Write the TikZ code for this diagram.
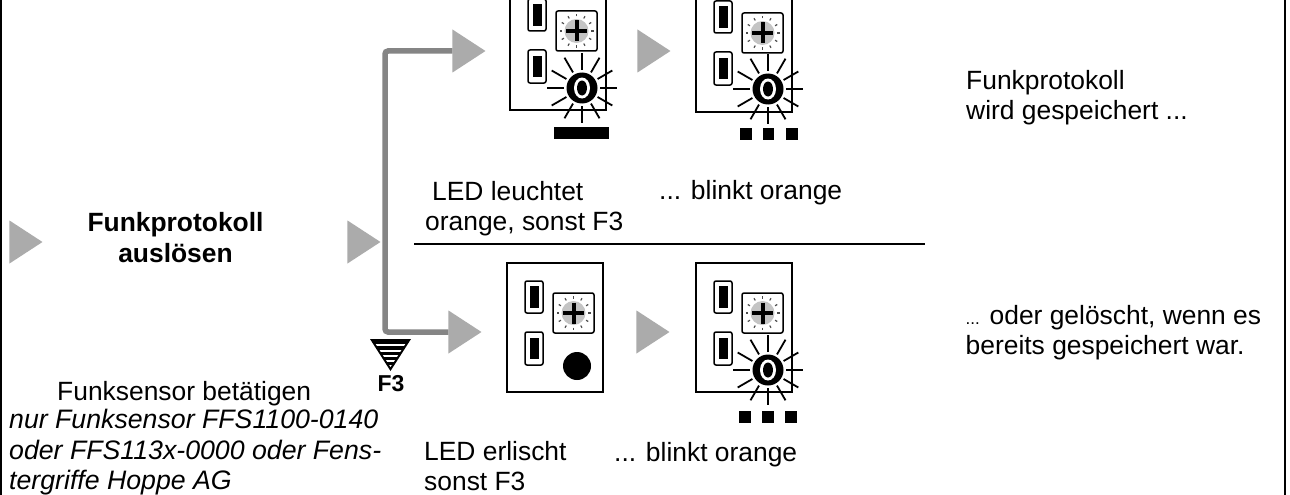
\documentclass[tikz,border=0pt]{standalone}
\usepackage{fontspec}
\setmainfont{Liberation Sans}
\usetikzlibrary{calc, positioning, arrows.meta, shapes.geometric}
\definecolor{feedGray}{HTML}{858585}
\definecolor{tipGray}{HTML}{ABABAB}
\definecolor{dialGray}{HTML}{C4C4C4}
\tikzset{
    caption/.style={font=\fontsize{26.4}{30.5}\selectfont, align=left, inner sep=0pt, anchor=north west},
    note/.style={caption, font=\fontsize{26.7}{30.5}\selectfont\itshape},
    title/.style={caption, anchor=north, align=center, font=\fontsize{26.4}{31}\selectfont\bfseries},
    tip/.style={isosceles triangle, isosceles triangle stretches, fill=tipGray, inner sep=0pt, minimum height=33pt, minimum width=43pt, anchor=apex},
    feed/.style={line width=5.5pt, draw=feedGray, rounded corners=3pt},
    divider/.style={line width=2pt, draw=black},
    slot/.style={draw=black, line width=1.5pt, fill=white, rounded corners=2pt},
    pics/device/.style={code={
        \draw[line width=1.8pt, fill=white] (0,0) rectangle (96,129);
        % Slots
        \draw[slot] (18,18) rectangle (36,50);
        \fill (22.5,23) rectangle (32,45);
        \draw[slot] (18,69) rectangle (36,102);
        \fill (22.5,75) rectangle (32,96);
        % Dial
        \draw[line width=1.5pt, rounded corners=2pt] (46,30) rectangle (87,70);
        \fill[dialGray] (66.5,50) circle (12);
        \foreach \a in {0,30,...,330}
            \draw[line width=1.2pt, black!70] ($(66.5,50)+(\a:14.5)$) -- ($(66.5,50)+(\a:17)$);
        \draw[line width=4pt] (56,50) -- (77,50) (66.5,39.5) -- (66.5,60.5);
    }},
    pics/glow/.style={code={
        \foreach \a in {0,30,...,330}
            \draw[line width=1.8pt] (\a:18) -- (\a:35);
        \fill (0,0) circle (15.5);
        \fill[white] (0,0) ellipse (8 and 10.5);
        \fill (0,0) ellipse (5 and 7.5);
    }}
}
\begin{document}
\begin{tikzpicture}[x=1pt, y=-1pt]
    \useasboundingbox (0,0) rectangle (1290,495);
    \clip (0,0) rectangle (1290,495);
    \fill[white] (0,0) rectangle (1290,495);

    % Frame
    \coordinate (frameTL) at (1,0);
    \coordinate (frameBL) at (1,495);
    \coordinate (frameTR) at (1285,0);
    \coordinate (frameBR) at (1285,495);
    \draw[divider] (frameTL) -- (frameBL);
    \draw[divider] (frameTR) -- (frameBR);

    % Arrows
    \node[tip] (tipIn) at (43,242) {};
    \node[tip] (tipMid) at (381,242) {};
    \node[tip] (tipTop) at (486,51) {};
    \node[tip] (tipTopNext) at (671,51) {};
    \node[tip] (tipBot) at (482,332) {};
    \node[tip] (tipBotNext) at (670,332) {};
    \draw[feed] (tipTop.lower side) -| ($(tipMid.apex)+(4,0)$) |- (tipBot.lower side);

    % Devices, upper row
    \pic at (510,-19) {device};
    \pic at (582,88) {glow};
    \fill (554,127) rectangle (609,139);
    \pic at (696,-17) {device};
    \pic at (768,89) {glow};
    \foreach \x in {740,762.5,786}
        \fill (\x,128) rectangle ++(11.5,11.5);

    % Devices, lower row
    \pic at (507,263) {device};
    \fill (577,366) circle (14);
    \pic at (696,263) {device};
    \pic at (768,370) {glow};
    \foreach \x in {739,762,785}
        \fill (\x,411) rectangle ++(12,12);

    % F3 mark
    \fill (370,339) -- (411,339) -- (390.5,371) -- cycle;
    \begin{scope}
        \clip (373.5,340.5) -- (407.5,340.5) -- (390.5,367) -- cycle;
        \foreach \y in {343.5,349.5,355,360,364.5}
            \fill[white] (365,\y) rectangle (416,\y+2.2);
    \end{scope}
    \node[font=\fontsize{23}{26}\selectfont\bfseries, inner sep=0pt] (fThree) at (391,384) {F3};

    % Divider
    \coordinate (divL) at (414,244);
    \coordinate (divR) at (925,244);
    \draw[divider] (divL) -- (divR);

    % Texts
    \node[title] (trigger) at (175.5,212.5) {Funkprotokoll\\auslösen};
    \node[caption] (actuate) at (57,381) {Funksensor betätigen};
    \node[note] (onlyFor) at (9,409) {nur Funksensor FFS1100-0140\\oder FFS113x-0000 oder Fens-\\tergriffe Hoppe AG};
    \node[caption] (ledOn) at (425,181) {\hspace{7pt}LED leuchtet\\orange, sonst F3};
    \node[caption] (blinkTop) at (659,180) {... blinkt orange};
    \node[caption] (saved) at (966,70) {Funkprotokoll\\wird gespeichert ...};
    \node[caption] (ledOff) at (424,441) {LED erlischt\\sonst F3};
    \node[caption] (blinkBot) at (614,442) {... blinkt orange};
    \node[caption] (deleted) at (965.5,305) {{\fontsize{17}{20}\selectfont ...} oder gelöscht, wenn es\\bereits gespeichert war.};
\end{tikzpicture}
\end{document}
